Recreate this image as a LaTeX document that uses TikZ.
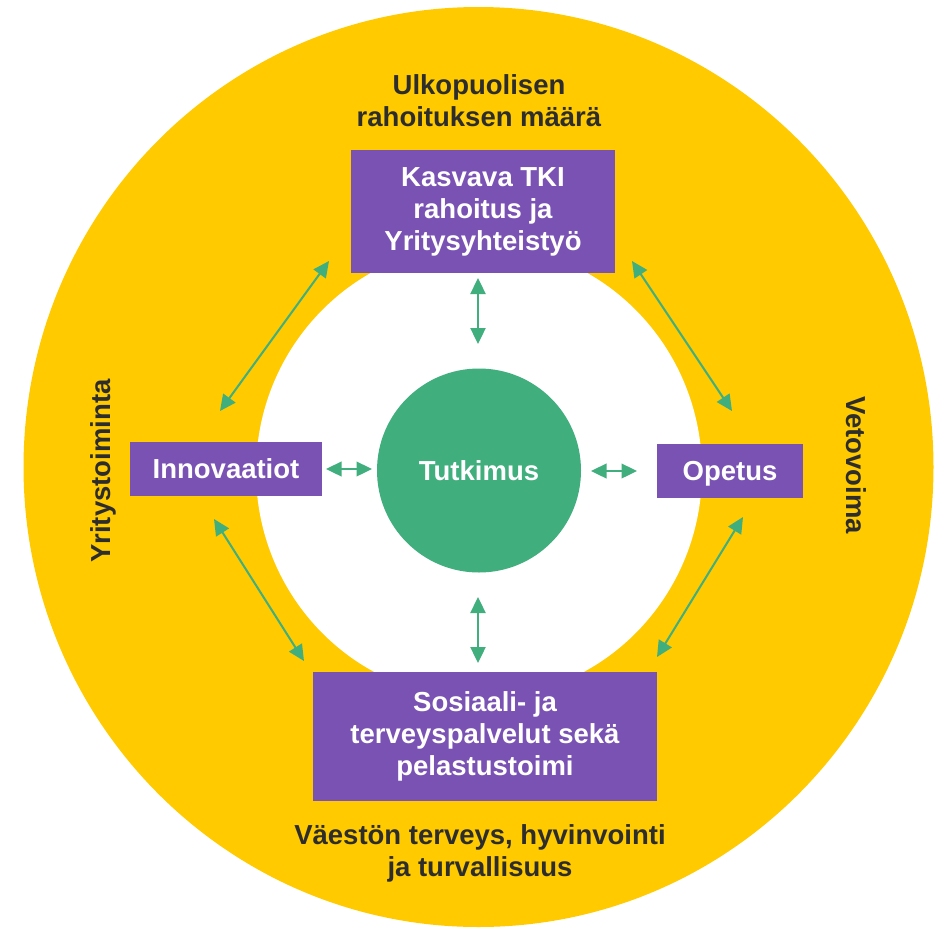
\documentclass[tikz,border=0pt]{standalone}
\usepackage{fontspec}
\setmainfont{Liberation Sans}
\usetikzlibrary{arrows.meta}
\definecolor{ylw}{HTML}{FFCA00}
\definecolor{prp}{HTML}{7952B3}
\definecolor{grn}{HTML}{41AE7E}
\definecolor{ink}{HTML}{2D2D2D}
\begin{document}
\begin{tikzpicture}[x=1pt,y=-1pt,
  box/.style={fill=prp, text=white, font=\bfseries\fontsize{27.5}{32}\selectfont, align=center, inner sep=0pt},
  lbl/.style={text=ink, font=\bfseries\fontsize{27.5}{32}\selectfont, align=center, inner sep=0pt},
  link/.style={draw=grn, line width=2.4pt, >={Triangle[length=16pt,width=15pt]}, <->},
  slink/.style={draw=grn, line width=2.4pt, >={Triangle[length=15.5pt,width=14.5pt]}, <->}]
\useasboundingbox (0,0) rectangle (940,927);
% rings
\fill[ylw] (478.5,467) ellipse [x radius=455, y radius=460];
\fill[white] (479,471.5) ellipse [x radius=223, y radius=227];
% centre
\node[circle, fill=grn, minimum size=204pt, inner sep=0pt, text=white,
      font=\bfseries\fontsize{27.5}{32}\selectfont] (tut) at (479,470.5) {Tutkimus};
% boxes
\node[box, minimum width=264pt, minimum height=123pt] (tki) at (483,211.5) {Kasvava TKI\\rahoitus ja\\Yritysyhteistyö};
\node[box, minimum width=192pt, minimum height=54pt, text depth=0pt] (inn) at (226,469) {Innovaatiot};
\node[box, minimum width=146pt, minimum height=54pt, text depth=0pt] (ope) at (730,471) {Opetus};
\node[box, minimum width=344pt, minimum height=129pt] (sos) at (485,736.5) {Sosiaali- ja\\terveyspalvelut sekä\\pelastustoimi};
% outer labels
\node[lbl] (ulk) at (479,100.5) {Ulkopuolisen\\rahoituksen määrä};
\node[lbl] (vae) at (480,853.5) {Väestön terveys, hyvinvointi\\ja turvallisuus};
\node[lbl, rotate=90] (yri) at (103.7,471) {Yritystoiminta};
\node[lbl, rotate=-90] (vet) at (856.5,465) {Vetovoima};
% arrow end points
\coordinate (tA) at (478,278);  \coordinate (tB) at (478,344);
\coordinate (bA) at (478,597);  \coordinate (bB) at (478,663);
\coordinate (lA) at (326,469);  \coordinate (lB) at (372,469);
\coordinate (rA) at (591,471);  \coordinate (rB) at (637,471);
\coordinate (tlA) at (329,261); \coordinate (tlB) at (220,411);
\coordinate (trA) at (632,261); \coordinate (trB) at (732,411);
\coordinate (blA) at (214,519); \coordinate (blB) at (304,661);
\coordinate (brA) at (743,517); \coordinate (brB) at (657,657);
% arrows
\draw[link] (tA) -- (tB);
\draw[link] (bA) -- (bB);
\draw[slink] (lA) -- (lB);
\draw[slink] (rA) -- (rB);
\draw[link, line width=2pt] (tlA) -- (tlB);
\draw[link, line width=2pt] (trA) -- (trB);
\draw[link, line width=2pt] (blA) -- (blB);
\draw[link, line width=2pt] (brA) -- (brB);
\end{tikzpicture}
\end{document}
